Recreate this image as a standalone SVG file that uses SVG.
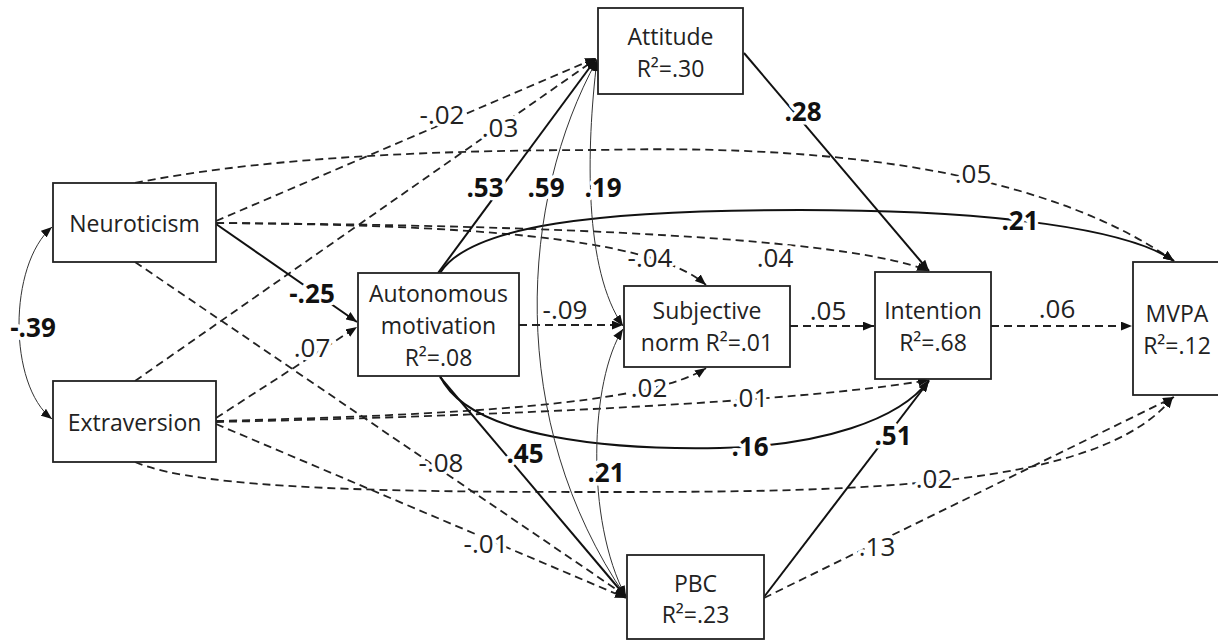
<svg xmlns="http://www.w3.org/2000/svg" width="1218" height="642" viewBox="0 0 1218 642">
<defs>
<style>
.node rect{fill:#fff;stroke:#222;stroke-width:1.8}
.node text{font-family:"Open Sans","Liberation Sans",sans-serif;font-size:23px;fill:#222;text-anchor:middle}
.d{fill:none;stroke:#222;stroke-width:1.8;stroke-dasharray:8 5}
.s{fill:none;stroke:#111;stroke-width:2}
.t{fill:none;stroke:#333;stroke-width:1}
.a{marker-end:url(#arr)}
.b2{marker-start:url(#arr);marker-end:url(#arr)}
.lbl{font-family:"Open Sans","Liberation Sans",sans-serif;font-size:26px;fill:#222;text-anchor:middle;stroke:#fff;stroke-width:7;stroke-linejoin:round;paint-order:stroke fill}
.bold{font-weight:bold;fill:#111}
</style>
<marker id="arr" viewBox="0 0 10 8" refX="10" refY="4" markerWidth="11" markerHeight="9" markerUnits="userSpaceOnUse" orient="auto-start-reverse">
<path d="M0,0 L10,4 L0,8 z" fill="#111"/>
</marker>
</defs>
<rect width="1218" height="642" fill="#fff"/>
<g id="connectors">
<path class="t b2" d="M52,227 C8,265 8,385 52,419"/>
<path class="d a" d="M216,221 L596,58"/>
<path class="d a" d="M135,381 L596,59"/>
<path class="d a" d="M135,183 Q300,150 600,150 Q1000,140 1174,261"/>
<path class="d a" d="M216,223 C450,225 650,235 706,285"/>
<path class="d a" d="M216,223 C550,225 850,238 928,271"/>
<path class="s a" d="M216,224 L357,322"/>
<path class="d a" d="M135,262 L626,596"/>
<path class="d a" d="M216,418 L357,327"/>
<path class="d a" d="M216,421 C450,415 650,405 706,368"/>
<path class="d a" d="M216,422 C500,416 800,402 929,380"/>
<path class="d a" d="M216,424 L626,598"/>
<path class="d a" d="M135,462 C200,490 400,492 600,492 C850,492 1100,490 1173,397"/>
<path class="s a" d="M438,273 L596,59"/>
<path class="s a" d="M440,273 C470,225 600,210 800,210 C1000,210 1130,230 1174,261"/>
<path class="s a" d="M440,376 C470,440 620,450 720,448 C820,446 900,420 929,380"/>
<path class="s a" d="M440,377 L626,597"/>
<path class="s a" d="M744,53 L929,271"/>
<path class="t b2" d="M597,60 C586,150 584,270 623,326"/>
<path class="t b2" d="M597,60 C520,200 505,420 626,597"/>
<path class="t b2" d="M623,329 C590,380 585,520 626,597"/>
<path class="d a" d="M519,325 L623,325"/>
<path class="d a" d="M790,326 L874,326"/>
<path class="d a" d="M991,326 L1132,326"/>
<path class="s a" d="M764,597 L929,381"/>
<path class="d a" d="M764,598 L1174,397"/>
<text class="lbl" x="442" y="124">-.02</text>
<text class="lbl" x="500" y="137">.03</text>
<text class="lbl bold" x="485" y="197">.53</text>
<text class="lbl bold" x="546" y="197">.59</text>
<text class="lbl bold" x="603" y="197">.19</text>
<text class="lbl bold" x="803" y="121">.28</text>
<text class="lbl" x="973" y="183">.05</text>
<text class="lbl bold" x="1020" y="230">.21</text>
<text class="lbl" x="650" y="267">-.04</text>
<text class="lbl" x="775" y="267">.04</text>
<text class="lbl bold" x="312" y="303">-.25</text>
<text class="lbl bold" x="33" y="337">-.39</text>
<text class="lbl" x="312" y="357">.07</text>
<text class="lbl" x="565" y="319">-.09</text>
<text class="lbl" x="828" y="320">.05</text>
<text class="lbl" x="1057" y="318">.06</text>
<text class="lbl" x="649" y="397">.02</text>
<text class="lbl" x="750" y="407">.01</text>
<text class="lbl bold" x="750" y="456">.16</text>
<text class="lbl bold" x="893" y="445">.51</text>
<text class="lbl" x="441" y="472">-.08</text>
<text class="lbl bold" x="525" y="463">.45</text>
<text class="lbl bold" x="606" y="482">.21</text>
<text class="lbl" x="486" y="553">-.01</text>
<text class="lbl" x="934" y="488">.02</text>
<text class="lbl" x="877" y="556">.13</text>
</g>
<g id="attitude" class="node"><rect x="598" y="8" width="145" height="86"/><text x="670.5" y="45">Attitude</text><text x="670.5" y="77">R²=.30</text></g>
<g id="neuroticism" class="node"><rect x="53" y="183" width="163" height="79"/><text x="134.5" y="232">Neuroticism</text></g>
<g id="extraversion" class="node"><rect x="53" y="381" width="163" height="81"/><text x="134.5" y="431">Extraversion</text></g>
<g id="autonomous" class="node"><rect x="358" y="273" width="161" height="103"/><text x="438.5" y="302">Autonomous</text><text x="438.5" y="334">motivation</text><text x="438.5" y="366">R²=.08</text></g>
<g id="subjective" class="node"><rect x="624" y="286" width="166" height="81"/><text x="707" y="319">Subjective</text><text x="707" y="351">norm R²=.01</text></g>
<g id="intention" class="node"><rect x="875" y="272" width="116" height="107"/><text x="933" y="319">Intention</text><text x="933" y="351">R²=.68</text></g>
<g id="mvpa" class="node"><rect x="1133" y="262" width="95" height="133"/><text x="1177" y="322">MVPA</text><text x="1177" y="354">R²=.12</text></g>
<g id="pbc" class="node"><rect x="627" y="555" width="137" height="84"/><text x="695.5" y="592">PBC</text><text x="695.5" y="623">R²=.23</text></g>
</svg>
